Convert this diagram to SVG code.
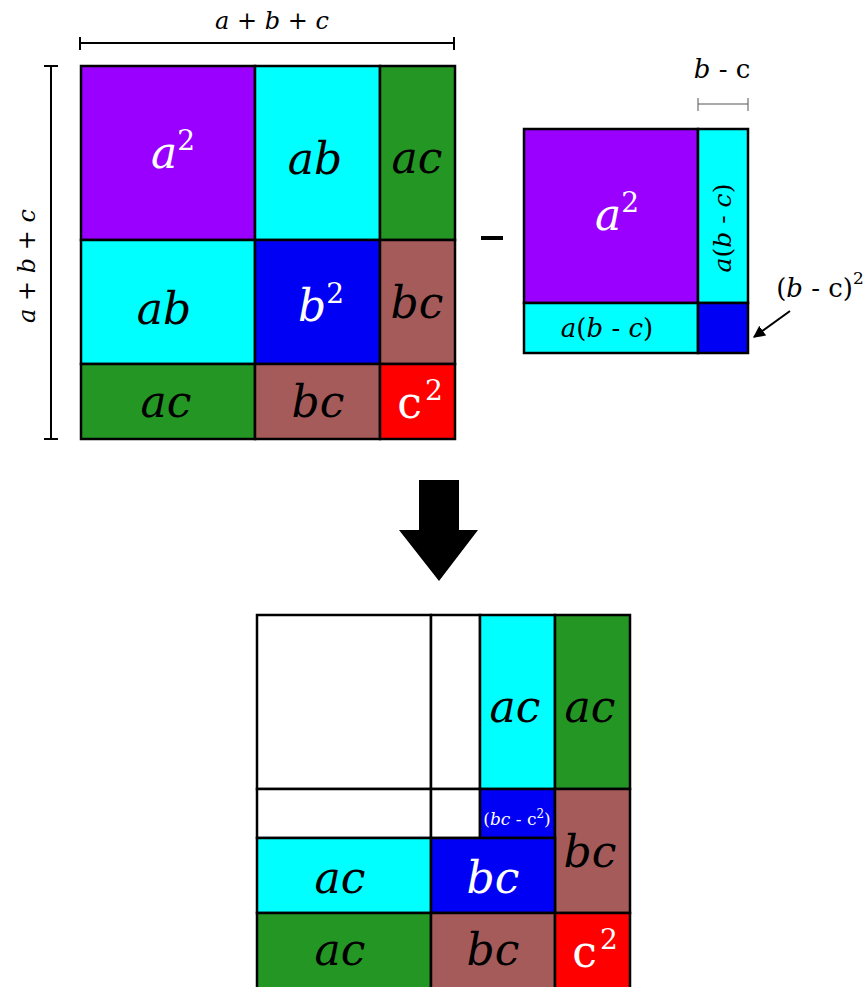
<svg xmlns="http://www.w3.org/2000/svg" width="868" height="987" viewBox="0 0 868 987">
<style>
.b{stroke:#000;stroke-width:2.5}
.pu{fill:#9900ff}.cy{fill:#00ffff}.gr{fill:#249624}.br{fill:#a65b5b}.bl{fill:#0000f5}.rd{fill:#ff0000}.wh{fill:#fff}
text{font-family:"DejaVu Serif","Liberation Serif",serif;text-anchor:middle}
.v{font-style:italic}
.L{font-size:44px}
.k{fill:#000}.w{fill:#fff}
.dim{stroke:#000;stroke-width:2;fill:none}
</style>
<defs>
<marker id="ah" viewBox="0 0 10 10" refX="9" refY="5" markerWidth="6" markerHeight="6" orient="auto"><path d="M0,0L10,5L0,10z" fill="#000"/></marker>
</defs>

<g id="dims">
<path class="dim" d="M80,43H454M80,37V50M454,37V50"/>
<text x="272" y="29" style="font-size:24px" class="v">a + b + c</text>
<path class="dim" d="M51,66V439M44,66H58M44,439H58"/>
<text transform="translate(35,266) rotate(-90)" style="font-size:24px" class="v">a + b + c</text>
<path d="M698,104H748M698,98V111M748,98V111" stroke="#555" stroke-width="1" fill="none"/>
<text x="722" y="78" style="font-size:26px"><tspan class="v">b</tspan> - c</text>
</g>

<g id="big-square">
<rect class="b pu" x="81" y="66" width="174" height="174"/>
<rect class="b cy" x="255" y="66" width="125" height="174"/>
<rect class="b gr" x="380" y="66" width="75" height="174"/>
<rect class="b cy" x="81" y="240" width="174" height="124"/>
<rect class="b bl" x="255" y="240" width="125" height="124"/>
<rect class="b br" x="380" y="240" width="75" height="124"/>
<rect class="b gr" x="81" y="364" width="174" height="75"/>
<rect class="b br" x="255" y="364" width="125" height="75"/>
<rect class="b rd" x="380" y="364" width="75" height="75"/>
<text x="173" y="168" class="L w"><tspan class="v">a</tspan><tspan dy="-18" style="font-size:28px">2</tspan></text>
<text x="315" y="174" class="L k v">ab</text>
<text x="417" y="173" class="L k v">ac</text>
<text x="164" y="324" class="L k v">ab</text>
<text x="321" y="321" class="L w"><tspan class="v">b</tspan><tspan dy="-18" style="font-size:28px">2</tspan></text>
<text x="417" y="318" class="L k v">bc</text>
<text x="166" y="417" class="L k v">ac</text>
<text x="318" y="417" class="L k v">bc</text>
<text x="420" y="418" class="L w">c<tspan dy="-18" dx="3" style="font-size:28px">2</tspan></text>
</g>

<g id="minus">
<rect x="481" y="236" width="22" height="4" fill="#000"/>
</g>

<g id="small-square">
<rect class="b pu" x="524" y="129" width="174" height="174"/>
<rect class="b cy" x="698" y="129" width="50" height="174"/>
<rect class="b cy" x="524" y="303" width="174" height="50"/>
<rect class="b bl" x="698" y="303" width="50" height="50"/>
<text x="617" y="230" class="L w"><tspan class="v">a</tspan><tspan dy="-18" style="font-size:28px">2</tspan></text>
<text transform="translate(731,228) rotate(-90)" style="font-size:25px" class="k"><tspan class="v">a</tspan>(<tspan class="v">b</tspan> - <tspan class="v">c</tspan>)</text>
<text x="607" y="337" style="font-size:26px" class="k"><tspan class="v">a</tspan>(<tspan class="v">b</tspan> - <tspan class="v">c</tspan>)</text>
<text x="820" y="297" style="font-size:26px" class="k">(<tspan class="v">b</tspan> - c)<tspan dy="-13" style="font-size:17px">2</tspan></text>
</g>

<g id="connectors">
<path d="M790,311L754,337" stroke="#000" stroke-width="2" marker-end="url(#ah)"/>
<path d="M419,480H459V530H478L439,581L399,530H419Z" fill="#000"/>
</g>

<g id="result-square">
<rect class="b wh" x="257" y="615" width="174" height="174"/>
<rect class="b wh" x="431" y="615" width="49" height="174"/>
<rect class="b cy" x="480" y="615" width="75" height="174"/>
<rect class="b gr" x="555" y="615" width="75" height="174"/>
<rect class="b wh" x="257" y="789" width="174" height="49"/>
<rect class="b wh" x="431" y="789" width="49" height="49"/>
<rect class="b bl" x="480" y="789" width="75" height="49"/>
<rect class="b br" x="555" y="789" width="75" height="124"/>
<rect class="b cy" x="257" y="838" width="174" height="75"/>
<rect class="b bl" x="431" y="838" width="124" height="75"/>
<rect class="b gr" x="257" y="913" width="174" height="76"/>
<rect class="b br" x="431" y="913" width="124" height="76"/>
<rect class="b rd" x="555" y="913" width="75" height="76"/>
<text x="517" y="825" style="font-size:17px" class="w">(<tspan class="v">bc</tspan> - c<tspan dy="-7" style="font-size:12px">2</tspan><tspan dy="7">)</tspan></text>
<text x="515" y="722" class="L k v">ac</text>
<text x="590" y="722" class="L k v">ac</text>
<text x="590" y="867" class="L k v">bc</text>
<text x="340" y="893" class="L k v">ac</text>
<text x="493" y="893" class="L w v">bc</text>
<text x="340" y="965" class="L k v">ac</text>
<text x="493" y="965" class="L k v">bc</text>
<text x="595" y="967" class="L w">c<tspan dy="-18" dx="3" style="font-size:28px">2</tspan></text>
</g>
</svg>
